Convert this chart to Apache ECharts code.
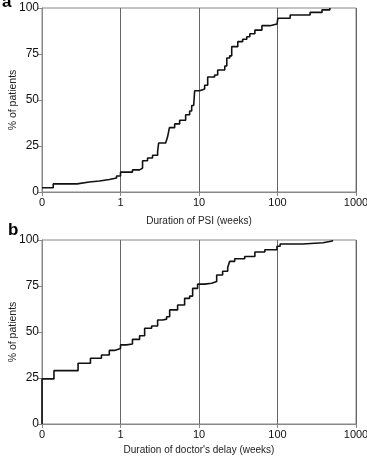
<!DOCTYPE html>
<html>
<head>
<meta charset="utf-8">
<script src="https://cdn.jsdelivr.net/npm/echarts@6/dist/echarts.min.js"></script>
<style>
  html, body { margin: 0; padding: 0; background: #fff; }
  #chart { width: 367px; height: 457px; }
</style>
</head>
<body>
<div id="chart"></div>
<script>
// panel a: duration of PSI (weeks) vs cumulative % of patients
var psiWeeks = [0.1, 0.139, 0.28, 0.40, 0.54, 0.72, 0.89, 1.0, 1.42, 1.75, 1.91, 2.21, 2.56, 2.97, 3.06, 3.76, 3.98, 4.2, 4.9, 5.67, 6.76, 7.6, 8.07, 8.56, 8.8, 10.2, 11.8, 12.9, 15.8, 17.3, 21.3, 22.6, 24.6, 26.1, 31.2, 36, 40.6, 44.4, 51.5, 63.3, 80, 98.5, 101, 145, 260, 369, 465];
var psiPct   = [2.3, 4.4, 5.4, 6.0, 6.8, 7.6, 8.7, 10.8, 12, 13, 17, 18.5, 20, 22, 26.6, 27.4, 30, 35, 37, 39, 42, 44, 47, 48, 55, 56, 58, 62.5, 63.6, 66.3, 68.5, 72.8, 74, 79, 81.7, 83, 84.4, 86, 88, 90.4, 91.3, 92, 94.4, 96.2, 97.6, 99, 100];
// panel b: duration of doctor's delay (weeks)
var delayWeeks = [0.1, 0.1, 0.142, 0.288, 0.414, 0.572, 0.72, 0.84, 1.0, 1.19, 1.42, 1.75, 2.03, 2.49, 2.97, 3.44, 3.87, 4.23, 5.34, 6.56, 7.6, 8.3, 9.6, 11.8, 14.5, 16.8, 20, 23.2, 24.6, 28.5, 38.2, 51.5, 69, 98.5, 108, 210, 380, 500];
var delayPct   = [0, 24.5, 29, 33, 35.7, 37.5, 40, 41, 43, 43.5, 46, 48, 52, 53.3, 56.5, 57, 58.3, 62, 64.7, 68.3, 69.5, 73.7, 76, 76.5, 77.5, 81, 83, 85, 88.4, 89.8, 91, 93.5, 94.7, 96.6, 97.8, 98.5, 99.5, 100];
var yTicks = [0, 25, 50, 75, 100];

var chart = echarts.init(document.getElementById('chart'));

function pairs(xs, ys) {
  return xs.map(function (x, i) { return [x, ys[i]]; });
}

var fontFam = 'Liberation Sans, Arial, sans-serif';

function xAxisFor(idx, title, gap) {
  return {
    type: 'log',
    gridIndex: idx,
    logBase: 10,
    min: 0.1,
    max: 1000,
    name: title,
    nameLocation: 'middle',
    nameGap: gap,
    nameMoveOverlap: false,
    nameTextStyle: { fontSize: 10, color: '#222', fontFamily: fontFam },
    axisLine: { show: true, lineStyle: { color: '#888', width: 1 } },
    axisTick: { show: true, length: 4, lineStyle: { color: '#888' } },
    axisLabel: {
      fontSize: 11, color: '#111', fontFamily: fontFam, margin: 5,
      formatter: function (v) { return v < 0.5 ? '0' : String(Math.round(v)); }
    },
    splitLine: { show: true, lineStyle: { color: '#666', width: 1 } },
    minorTick: { show: false }
  };
}

function yAxisFor(idx) {
  return {
    type: 'value',
    gridIndex: idx,
    min: yTicks[0],
    max: yTicks[yTicks.length - 1],
    interval: 25,
    name: '% of patients',
    nameLocation: 'middle',
    nameGap: 23,
    nameMoveOverlap: false,
    nameTextStyle: { fontSize: 10.5, color: '#222', fontFamily: fontFam },
    axisLine: { show: true, lineStyle: { color: '#888', width: 1 } },
    axisTick: { show: true, length: 4, lineStyle: { color: '#888' } },
    axisLabel: { fontSize: 12, color: '#111', fontFamily: fontFam, margin: 3 },
    splitLine: { show: false }
  };
}

chart.setOption({
  animation: false,
  backgroundColor: '#fff',
  grid: [
    { left: 42, top: 8, width: 314, height: 184, show: true, borderColor: '#888', borderWidth: 1,
      containLabel: false, outerBoundsMode: 'none' },
    { left: 42, top: 240, width: 314, height: 184, show: true, borderColor: '#888', borderWidth: 1,
      containLabel: false, outerBoundsMode: 'none' }
  ],
  xAxis: [
    xAxisFor(0, 'Duration of PSI (weeks)', 24),
    xAxisFor(1, "Duration of doctor's delay (weeks)", 21)
  ],
  yAxis: [yAxisFor(0), yAxisFor(1)],
  graphic: [
    { type: 'text', left: 2, top: -6, style: { text: 'a', font: 'bold 17px ' + fontFam, fill: '#000' } },
    { type: 'text', left: 8, top: 222, style: { text: 'b', font: 'bold 17px ' + fontFam, fill: '#000' } }
  ],
  series: [
    {
      type: 'line', xAxisIndex: 0, yAxisIndex: 0, step: 'end',
      showSymbol: false, data: pairs(psiWeeks, psiPct),
      lineStyle: { color: '#111', width: 1.6 }
    },
    {
      type: 'line', xAxisIndex: 1, yAxisIndex: 1, step: 'end',
      showSymbol: false, data: pairs(delayWeeks, delayPct),
      lineStyle: { color: '#111', width: 1.6 }
    }
  ]
});
</script>
</body>
</html>
